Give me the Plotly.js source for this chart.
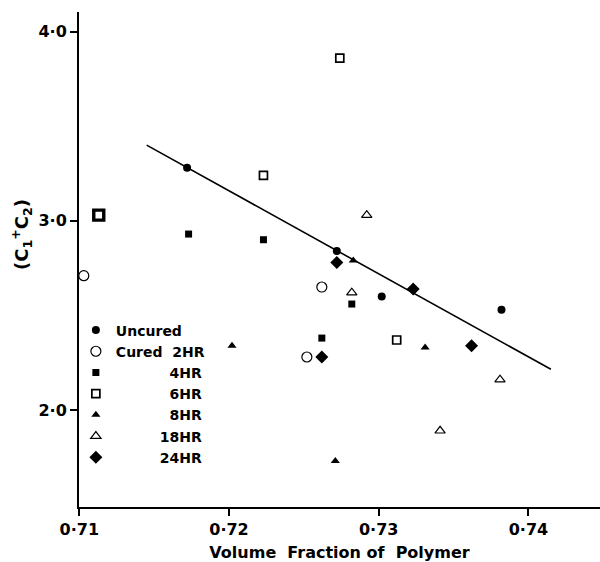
<!DOCTYPE html>
<html>
<head>
<meta charset="utf-8">
<script src="https://cdn.plot.ly/plotly-3.0.1.min.js"></script>
<style>html,body{margin:0;padding:0;background:#fff;}#chart{width:600px;height:562px;}</style>
</head>
<body>
<div id="chart"></div>
<script>
// ---- data ----
const uncuredX = [0.7172, 0.7272, 0.7302, 0.7382];
const uncuredY = [3.28, 2.84, 2.60, 2.53];
const cured2X = [0.7103, 0.7262, 0.7252];
const cured2Y = [2.71, 2.65, 2.28];
const hr4X = [0.7173, 0.7223, 0.7282, 0.7262];
const hr4Y = [2.93, 2.90, 2.56, 2.38];
const hr6X = [0.7113, 0.7223, 0.7274, 0.7312];   // first point drawn with a heavy outline
const hr6Y = [3.03, 3.24, 3.86, 2.37];
const hr8X = [0.7202, 0.7283, 0.7331, 0.7271];
const hr8Y = [2.34, 2.79, 2.33, 1.73];
const hr18X = [0.7292, 0.7282, 0.7381, 0.7341];
const hr18Y = [3.03, 2.62, 2.16, 1.89];
const hr24X = [0.7272, 0.7323, 0.7362, 0.7262];
const hr24Y = [2.78, 2.64, 2.34, 2.28];
const fitX = [0.7145, 0.7415];
const fitY = [3.40, 2.215];

const xTickVals = [0.71, 0.72, 0.73, 0.74];
const xTickText = ['0·71', '0·72', '0·73', '0·74'];
const yTickVals = [2.0, 3.0, 4.0];
const yTickText = ['2·0', '3·0', '4·0'];

const seriesNames = ['Uncured', 'Cured\u00a0\u00a02HR',
  '\u00a0'.repeat(11) + '4HR', '\u00a0'.repeat(11) + '6HR', '\u00a0'.repeat(11) + '8HR',
  '\u00a0'.repeat(9) + '18HR', '\u00a0'.repeat(9) + '24HR'];

const black = '#000';
function pts(x, y, name, symbol, size, lw) {
  return {x: x, y: y, name: name, type: 'scatter', mode: 'markers', cliponaxis: false,
    legendgroup: name,
    marker: {symbol: symbol, size: size, color: black, line: {color: black, width: lw}}};
}

const bold6 = pts(hr6X.slice(0, 1), hr6Y.slice(0, 1), seriesNames[3], 'square-open', 10, 3.4);
bold6.showlegend = false;

const traces = [
  {x: fitX, y: fitY, type: 'scatter', mode: 'lines', showlegend: false,
   line: {color: black, width: 1.6}, hoverinfo: 'skip'},
  pts(uncuredX, uncuredY, seriesNames[0], 'circle', 8, 0),
  pts(cured2X, cured2Y, seriesNames[1], 'circle-open', 10, 1.2),
  pts(hr4X, hr4Y, seriesNames[2], 'square', 7, 0),
  pts(hr6X.slice(1), hr6Y.slice(1), seriesNames[3], 'square-open', 8, 1.7),
  bold6,
  pts(hr8X, hr8Y, seriesNames[4], 'triangle-up', 8, 0),
  pts(hr18X, hr18Y, seriesNames[5], 'triangle-up-open', 9, 1.2),
  pts(hr24X, hr24Y, seriesNames[6], 'diamond', 10, 0)
];

const font = {family: 'DejaVu Sans', size: 16, color: black, weight: 'bold'};
const legendFont = {family: 'DejaVu Sans', size: 14, color: black, weight: 'bold'};

const layout = {
  width: 600, height: 562,
  margin: {l: 79, r: 0, t: 12, b: 55},
  paper_bgcolor: '#fff', plot_bgcolor: '#fff',
  font: font,
  showlegend: true,
  legend: {x: -0.006, y: 0.389, xanchor: 'left', yanchor: 'top', bgcolor: 'rgba(0,0,0,0)',
           tracegroupgap: 0, itemwidth: 30, font: legendFont, traceorder: 'normal'},
  xaxis: {range: [0.70998, 0.74478], showgrid: false, zeroline: false, showline: true,
          linecolor: black, linewidth: 2, ticks: 'outside', ticklen: 7, tickwidth: 2,
          tickcolor: black, tickvals: xTickVals, ticktext: xTickText, automargin: false,
          title: {text: 'Volume\u00a0\u00a0Fraction\u00a0of\u00a0\u00a0Polymer', font: font, standoff: 9}},
  yaxis: {range: [1.487, 4.104], showgrid: false, zeroline: false, showline: true,
          linecolor: black, linewidth: 2, ticks: 'outside', ticklen: 7, tickwidth: 2,
          tickcolor: black, tickvals: yTickVals, ticktext: yTickText, automargin: false},
  annotations: [{text: '(C<sub>1</sub><sup>+</sup>C<sub>2</sub>)', xref: 'paper', yref: 'paper',
                 x: -0.111, y: 0.55, textangle: -90, showarrow: false,
                 font: {family: 'DejaVu Sans', size: 18, color: black, weight: 'bold'},
                 xanchor: 'center', yanchor: 'middle'}]
};

Plotly.newPlot('chart', traces, layout, {displayModeBar: false, staticPlot: true});
</script>
</body>
</html>
